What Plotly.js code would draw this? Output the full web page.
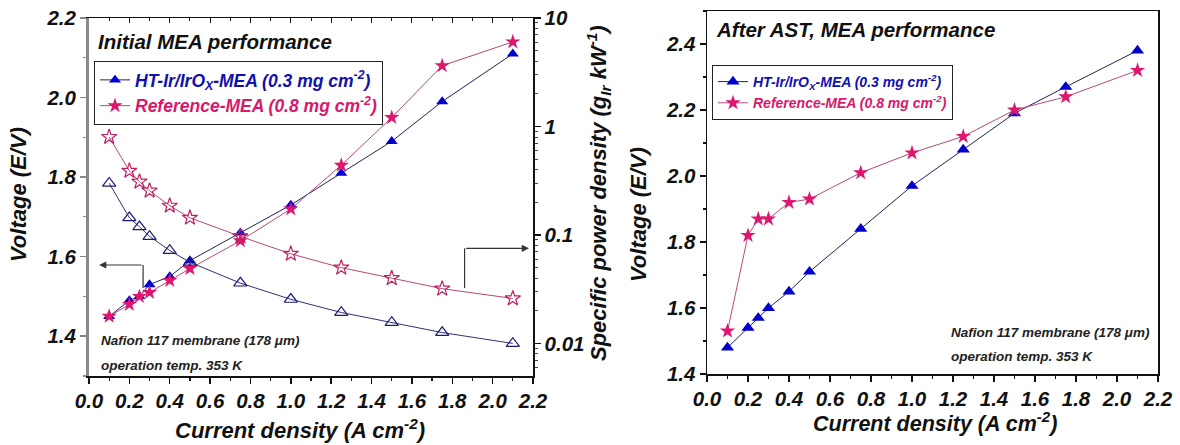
<!DOCTYPE html>
<html>
<head>
<meta charset="utf-8">
<script src="https://cdn.plot.ly/plotly-3.0.1.min.js"></script>
<style>html,body{margin:0;padding:0;background:#fff;}#chart{width:1180px;height:445px;}</style>
</head>
<body>
<div id="chart"></div>
<script>
// ---- data ----
const currentDensity = [0.1, 0.2, 0.25, 0.3, 0.4, 0.5, 0.75, 1.0, 1.25, 1.5, 1.75, 2.1];
const htInitialV   = [1.45, 1.49, 1.50, 1.53, 1.55, 1.59, 1.66, 1.73, 1.81, 1.89, 1.99, 2.11];
const refInitialV  = [1.45, 1.48, 1.50, 1.51, 1.54, 1.57, 1.64, 1.72, 1.83, 1.95, 2.08, 2.14];
const htSpecPower  = [0.30, 0.144, 0.119, 0.097, 0.072, 0.056, 0.036, 0.0255, 0.0193, 0.0156, 0.0126, 0.0100];
const refSpecPower = [0.80, 0.39, 0.31, 0.256, 0.186, 0.144, 0.097, 0.067, 0.050, 0.040, 0.032, 0.026];
const htAstV  = [1.48, 1.54, 1.57, 1.60, 1.65, 1.71, 1.84, 1.97, 2.08, 2.19, 2.27, 2.38];
const refAstV = [1.53, 1.82, 1.87, 1.87, 1.92, 1.93, 2.01, 2.07, 2.12, 2.20, 2.24, 2.32];
const htName  = '<span style="color:#1010b0">HT-Ir/IrO<sub>X</sub>-MEA (0.3 mg cm<sup>-2</sup>)</span>';
const refName = '<span style="color:#d8186c">Reference-MEA (0.8 mg cm<sup>-2</sup>)</span>';

const FONT = 'Liberation Sans, Arial, sans-serif';
const W = 1180, H = 445;
const px = v => v / W, py = v => 1 - v / H;
const bi = (size, color) => ({family: FONT, size: size, color: color || '#111', weight: 'bold', style: 'italic'});

const blue = '#0000cc', blueLine = '#20206a', navyOpen = '#1c1c78';
const pink = '#e0156e', pinkLine = '#b84a78', pinkOpen = '#c02060';
const TRI = 10.5, STAR = 11.5;

const traces = [
  {x: currentDensity, y: htSpecPower, xaxis: 'x', yaxis: 'y2', mode: 'lines+markers', showlegend: false,
   line: {color: '#30307a', width: 1}, marker: {symbol: 'triangle-up-open', size: TRI + 1, color: navyOpen, line: {width: 1.2}}},
  {x: currentDensity, y: refSpecPower, xaxis: 'x', yaxis: 'y2', mode: 'lines+markers', showlegend: false,
   line: {color: pinkLine, width: 1}, marker: {symbol: 'star-open', size: STAR, color: pinkOpen, line: {width: 1.2}}},
  {x: currentDensity, y: htInitialV, xaxis: 'x', yaxis: 'y', mode: 'lines+markers', name: htName, legend: 'legend',
   line: {color: blueLine, width: 1}, marker: {symbol: 'triangle-up', size: TRI, color: blue}},
  {x: currentDensity, y: refInitialV, xaxis: 'x', yaxis: 'y', mode: 'lines+markers', name: refName, legend: 'legend',
   line: {color: pinkLine, width: 1}, marker: {symbol: 'star', size: STAR, color: pink}},
  {x: [], y: [], xaxis: 'x3', yaxis: 'y', showlegend: false, hoverinfo: 'skip'},
  {x: currentDensity, y: htAstV, xaxis: 'x2', yaxis: 'y3', mode: 'lines+markers', name: htName, legend: 'legend2',
   line: {color: blueLine, width: 1}, marker: {symbol: 'triangle-up', size: TRI + 1, color: blue}},
  {x: currentDensity, y: refAstV, xaxis: 'x2', yaxis: 'y3', mode: 'lines+markers', name: refName, legend: 'legend2',
   line: {color: pinkLine, width: 1}, marker: {symbol: 'star', size: STAR, color: pink}}
];

const xCommon = {range: [0, 2.2], dtick: 0.2, tick0: 0, tickformat: '.1f', ticks: 'outside', ticklen: 6, tickwidth: 1.5,
  tickcolor: '#111', showline: true, linecolor: '#111', linewidth: 1.5, showgrid: false, zeroline: false,
  tickfont: bi(20.5), minor: {dtick: 0.1, ticks: 'outside', ticklen: 3, tickcolor: '#111', tickwidth: 1.2}};

const layout = {
  width: W, height: H, margin: {l: 0, r: 0, t: 0, b: 0}, paper_bgcolor: '#fff', plot_bgcolor: '#fff',
  showlegend: true, hovermode: false,
  xaxis: Object.assign({}, xCommon, {domain: [px(89), px(533)], anchor: 'y'}),
  xaxis3: {domain: [px(89), px(533)], anchor: 'y', overlaying: 'x', side: 'top', range: [0, 2.2], dtick: 0.2,
    ticks: 'inside', ticklen: 5, tickcolor: '#111', showticklabels: false, showline: true, linecolor: '#111', linewidth: 1.5,
    showgrid: false, zeroline: false, minor: {dtick: 0.1, ticks: 'inside', ticklen: 3, tickcolor: '#111'}},
  yaxis: {domain: [py(376), py(18)], anchor: 'x', range: [1.3, 2.2], dtick: 0.2, tick0: 1.4, tickformat: '.1f',
    ticks: 'outside', ticklen: 6, tickwidth: 1.5, tickcolor: '#888', showline: true, linecolor: '#888', linewidth: 3,
    showgrid: false, zeroline: false, tickfont: bi(20.5),
    minor: {dtick: 0.1, ticks: 'outside', ticklen: 3, tickcolor: '#888', tickwidth: 1.2}},
  yaxis2: {overlaying: 'y', side: 'right', anchor: 'x', type: 'log', range: [-2.3, 1], dtick: 1,
    ticks: 'outside', ticklen: 6, tickwidth: 1.5, tickcolor: '#111', showline: true, linecolor: '#111', linewidth: 1.5,
    showgrid: false, zeroline: false, tickfont: bi(20.5),
    minor: {dtick: 'D1', ticks: 'outside', ticklen: 3, tickcolor: '#444', tickwidth: 1}},
  xaxis2: Object.assign({}, xCommon, {domain: [px(707), px(1158)], anchor: 'y3', mirror: true}),
  yaxis3: {domain: [py(374), py(11)], anchor: 'x2', range: [1.4, 2.5], dtick: 0.2, tick0: 1.4, tickformat: '.1f',
    ticks: 'outside', ticklen: 6, tickwidth: 1.5, tickcolor: '#111', showline: true, mirror: true, linecolor: '#111', linewidth: 1.5,
    showgrid: false, zeroline: false, tickfont: bi(20.5),
    minor: {dtick: 0.1, ticks: 'outside', ticklen: 3, tickcolor: '#111', tickwidth: 1.2}},
  legend: {x: px(94), y: py(61), xanchor: 'left', yanchor: 'top', bgcolor: '#fff', bordercolor: '#222', borderwidth: 1,
    font: bi(17.5), tracegroupgap: 0, itemwidth: 30},
  legend2: {x: px(712), y: py(65), xanchor: 'left', yanchor: 'top', bgcolor: '#fff', bordercolor: '#222', borderwidth: 1,
    font: bi(14), tracegroupgap: 0, itemwidth: 30},
  shapes: [
    {type: 'line', xref: 'x', yref: 'y', x0: 0.268, x1: 0.268, y0: 1.521, y1: 1.579, line: {color: '#333', width: 1.2}},
    {type: 'line', xref: 'x', yref: 'y', x0: 1.861, x1: 1.861, y0: 1.521, y1: 1.621, line: {color: '#333', width: 1.2}}
  ],
  annotations: [
    {xref: 'x', yref: 'y', axref: 'x', ayref: 'y', x: 0.05, y: 1.579, ax: 0.268, ay: 1.579, text: '', showarrow: true,
     arrowhead: 2, arrowsize: 1.2, arrowwidth: 1.2, arrowcolor: '#333'},
    {xref: 'x', yref: 'y', axref: 'x', ayref: 'y', x: 2.18, y: 1.621, ax: 1.861, ay: 1.621, text: '', showarrow: true,
     arrowhead: 2, arrowsize: 1.2, arrowwidth: 1.2, arrowcolor: '#333'},
    {xref: 'paper', yref: 'paper', x: px(96), y: py(42), xanchor: 'left', yanchor: 'middle', showarrow: false,
     text: 'Initial MEA performance', font: bi(20.5)},
    {xref: 'paper', yref: 'paper', x: px(714), y: py(30), xanchor: 'left', yanchor: 'middle', showarrow: false,
     text: 'After AST, MEA performance', font: bi(20.5)},
    {xref: 'paper', yref: 'paper', x: px(99), y: py(340), xanchor: 'left', yanchor: 'middle', showarrow: false,
     text: 'Nafion 117 membrane (178 \u03bcm)', font: bi(13.5, '#222')},
    {xref: 'paper', yref: 'paper', x: px(99), y: py(365), xanchor: 'left', yanchor: 'middle', showarrow: false,
     text: 'operation temp. 353 K', font: bi(13.5, '#222')},
    {xref: 'paper', yref: 'paper', x: px(949), y: py(332), xanchor: 'left', yanchor: 'middle', showarrow: false,
     text: 'Nafion 117 membrane (178 \u03bcm)', font: bi(13.5, '#222')},
    {xref: 'paper', yref: 'paper', x: px(949), y: py(356), xanchor: 'left', yanchor: 'middle', showarrow: false,
     text: 'operation temp. 353 K', font: bi(13.5, '#222')},
    {xref: 'paper', yref: 'paper', x: px(19), y: py(195), xanchor: 'center', yanchor: 'middle', showarrow: false,
     textangle: -90, text: 'Voltage (E/V)', font: bi(22)},
    {xref: 'paper', yref: 'paper', x: px(638), y: py(215), xanchor: 'center', yanchor: 'middle', showarrow: false,
     textangle: -90, text: 'Voltage (E/V)', font: bi(22)},
    {xref: 'paper', yref: 'paper', x: px(598), y: py(193), xanchor: 'center', yanchor: 'middle', showarrow: false,
     textangle: -90, text: 'Specific power density (g<sub>Ir</sub> kW<sup>-1</sup>)', font: bi(22)},
    {xref: 'paper', yref: 'paper', x: px(300), y: py(429), xanchor: 'center', yanchor: 'middle', showarrow: false,
     text: 'Current density (A cm<sup>-2</sup>)', font: bi(22)},
    {xref: 'paper', yref: 'paper', x: px(935), y: py(422), xanchor: 'center', yanchor: 'middle', showarrow: false,
     text: 'Current density (A cm<sup>-2</sup>)', font: bi(21.5)}
  ]
};

Plotly.newPlot('chart', traces, layout, {staticPlot: true, displayModeBar: false});
</script>
</body>
</html>
